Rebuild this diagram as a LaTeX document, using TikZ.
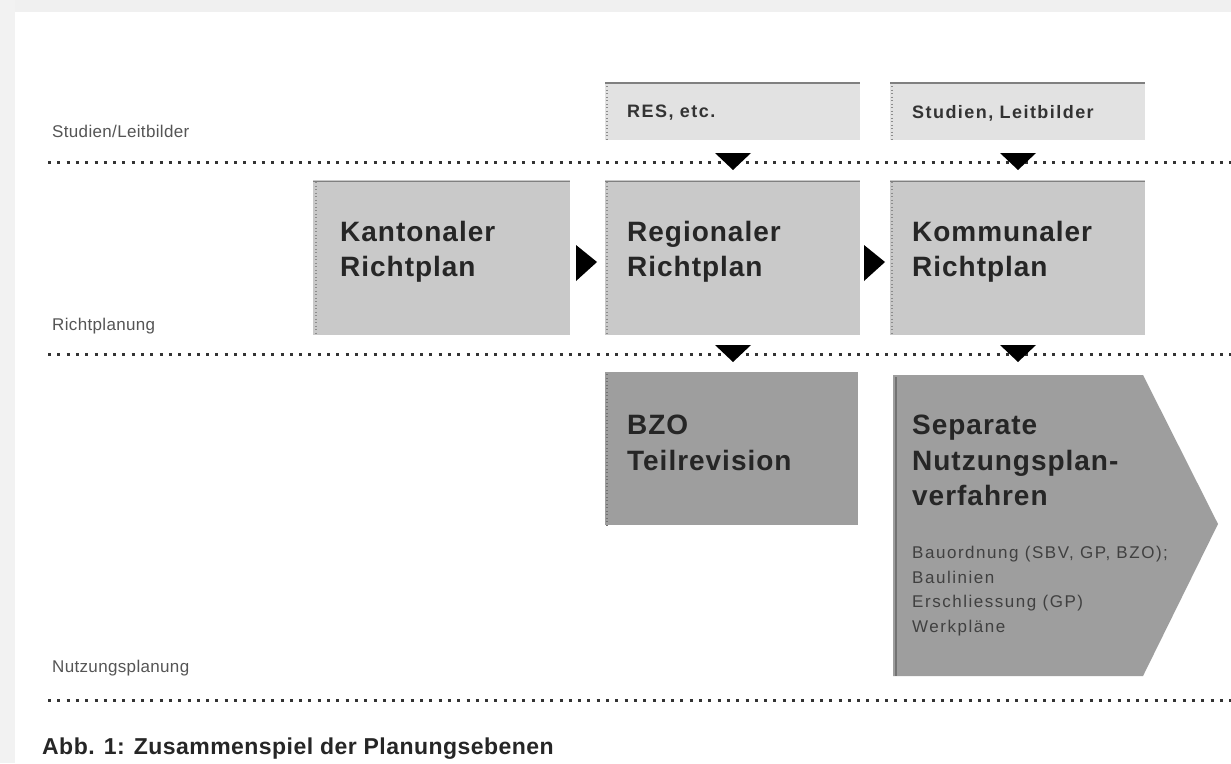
\documentclass[tikz,border=0pt]{standalone}
\usepackage{fontspec}
\setmainfont{Liberation Sans}
\definecolor{lightbox}{HTML}{E2E2E2}
\definecolor{midbox}{HTML}{C9C9C9}
\definecolor{darkbox}{HTML}{9E9E9E}
\definecolor{txtgray}{HTML}{555555}
\tikzset{
  sep/.style={line width=3pt, dash pattern=on 3pt off 6.3pt, color=black!80},
  level/.style={anchor=base west, font=\fontsize{17}{19}\addfontfeature{LetterSpace=2}\selectfont, text=txtgray, inner sep=0},
  topbox/.style={fill=lightbox, draw=none},
  midbx/.style={fill=midbox, draw=none},
  edge/.style={draw=black!45, line width=2pt, dash pattern=on 1pt off 2.5pt},
  bigtxt/.style={anchor=north west, align=left, inner sep=0, font=\fontsize{28}{35.5}\bfseries\addfontfeature{LetterSpace=3.5}\selectfont, text=black!85},
  smalltxt/.style={anchor=north west, align=left, inner sep=0, font=\fontsize{18}{20}\bfseries\addfontfeature{LetterSpace=8}\selectfont, text=black!80},
  notetxt/.style={anchor=north west, align=left, inner sep=0, font=\fontsize{17}{24.5}\addfontfeature{LetterSpace=9}\selectfont, text=black!75},
  tri/.style={fill=black}
}
\begin{document}
\begin{tikzpicture}[x=1pt,y=-1pt]
\useasboundingbox (0,0) rectangle (1231,763);
\fill[white] (0,0) rectangle (1231,763);
\fill[black!6] (0,0) rectangle (1231,12);
\fill[black!5] (0,0) rectangle (15,763);

% separator lines
\coordinate (l1a) at (48,162); \coordinate (l1b) at (1231,162);
\coordinate (l2a) at (48,354); \coordinate (l2b) at (1231,354);
\coordinate (l3a) at (48,700); \coordinate (l3b) at (1231,700);
\draw[sep] (l1a) -- (l1b);
\draw[sep] (l2a) -- (l2b);
\draw[sep] (l3a) -- (l3b);

% level labels
\node[level] (lv1) at (52,137) {Studien/Leitbilder};
\node[level] (lv2) at (52,330) {Richtplanung};
\node[level] (lv3) at (52,672) {Nutzungsplanung};

% top boxes
\fill[topbox] (605,82) rectangle (860,140);
\draw[black!50, line width=1.2pt] (605,83) -- (860,83);
\draw[edge] (607,86) -- (607,140);
\node[smalltxt] (res) at (627,105) {RES, etc.};
\fill[topbox] (890,82) rectangle (1145,140);
\draw[black!50, line width=1.2pt] (890,83) -- (1145,83);
\draw[edge] (892,86) -- (892,140);
\node[smalltxt] (stud) at (912,105) {Studien, Leitbilder};

% middle boxes
\fill[midbx] (313,180) rectangle (570,335);
\draw[black!50, line width=1pt] (313,181) -- (570,181);
\draw[edge] (316,182) -- (316,335);
\node[bigtxt] (kant) at (340,221) {Kantonaler\\Richtplan};
\fill[midbx] (605,180) rectangle (860,335);
\draw[black!50, line width=1pt] (605,181) -- (860,181);
\draw[edge] (607,182) -- (607,335);
\node[bigtxt] (reg) at (627,221) {Regionaler\\Richtplan};
\fill[midbx] (890,180) rectangle (1145,335);
\draw[black!50, line width=1pt] (890,181) -- (1145,181);
\draw[edge] (892,182) -- (892,335);
\node[bigtxt] (komm) at (912,221) {Kommunaler\\Richtplan};

% lower boxes
\fill[darkbox] (605,372) rectangle (858,525);
\draw[edge, draw=black!55] (607,374) -- (607,525);
\node[bigtxt] (bzo) at (627,415) {BZO\\Teilrevision};
\fill[darkbox] (893,375) -- (1143,375) -- (1218,524) -- (1143,676) -- (893,676) -- cycle;
\draw[black!55, line width=1.5pt] (896,377) -- (896,676);
\node[bigtxt] (sep) at (912,415) {Separate\\Nutzungsplan-\\verfahren};
\node[notetxt] (note) at (912,546) {Bauordnung (SBV, GP, BZO);\\Baulinien\\Erschliessung (GP)\\Werkpläne};

% triangles down
\fill[tri] (715,153) -- (751,153) -- (733,170) -- cycle;
\fill[tri] (1000,153) -- (1036,153) -- (1018,170) -- cycle;
\fill[tri] (715,345) -- (751,345) -- (733,362) -- cycle;
\fill[tri] (1000,345) -- (1036,345) -- (1018,362) -- cycle;
% triangles right
\fill[tri] (576,245) -- (597,262) -- (576,281) -- cycle;
\fill[tri] (864,245) -- (885,262) -- (864,281) -- cycle;

% caption
\node[anchor=base west, inner sep=0, font=\fontsize{23}{26}\bfseries\addfontfeature{LetterSpace=2}\selectfont, text=black!85] (cap) at (42,754) {Abb. 1: Zusammenspiel der Planungsebenen};
\end{tikzpicture}
\end{document}
